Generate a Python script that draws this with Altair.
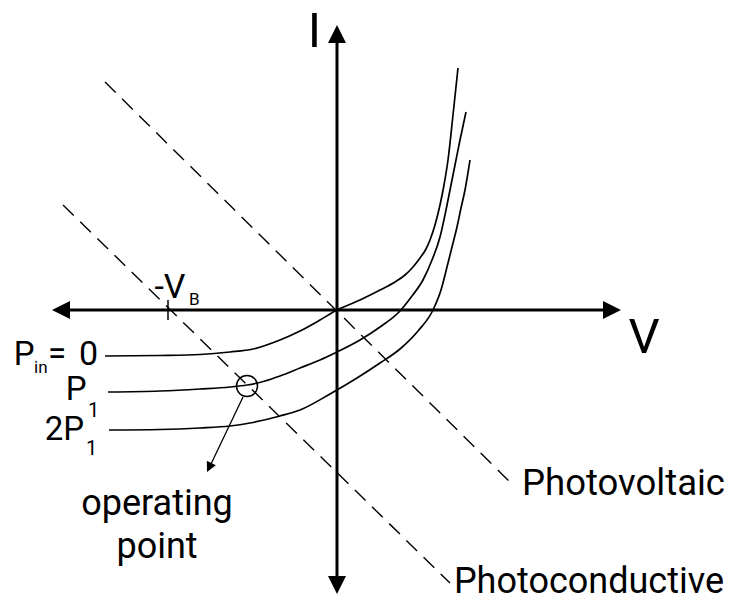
import altair as alt
import pandas as pd

# Diagram units: origin at the axis crossing, 1 unit = 1 px, I positive upward
# I-V curves
p0_v = [-232, -177, -137, -107, -84, -57, -37, -17, 0, 23, 43, 58, 68, 76, 83, 89, 93, 98, 103, 107, 111, 116, 121]
p0_i = [-46, -45.5, -44.5, -42, -39, -30, -21, -10, 0, 10, 20, 28, 35, 43, 52, 61, 70, 85, 105, 125, 150, 195, 242]

p1_v = [-229, -177, -137, -107, -90, -72, -57, -37, -17, 0, 23, 43, 63, 75, 86, 95, 103, 109, 113, 118, 123, 129]
p1_i = [-82, -81, -79, -77, -75, -71, -66, -58, -50, -42, -30, -17, -1, 14, 30, 50, 73, 100, 120, 145, 170, 198]

p2_v = [-228, -177, -137, -107, -87, -57, -37, -7, 20, 43, 63, 81, 96, 104, 110, 115, 120, 124, 128, 133]
p2_i = [-120, -119.5, -118, -116, -113, -106, -100, -84, -68, -53, -39, -21, 0, 20, 43, 63, 83, 102, 120, 150]

# load lines (dashed)
pv_v = [-232, 173]
pv_i = [228, -172]
pc_v = [-274, 113]
pc_i = [105, -273]

# axis extents (arrow tips)
h_axis_v = [-285, 284]
v_axis_i = [-284, 285]
vb = -169            # -V_B tick position
op_v, op_i = -90, -76  # operating point

XD = [-329, 388]
YD = [-284, 302]
W, H = 717, 586


def X(f="v"):
    return alt.X(f"{f}:Q", scale=alt.Scale(domain=XD, nice=False, zero=False), axis=None)


def Y(f="i"):
    return alt.Y(f"{f}:Q", scale=alt.Scale(domain=YD, nice=False, zero=False), axis=None)


rows = []
for name, vs, is_ in [("Pin=0", p0_v, p0_i), ("P1", p1_v, p1_i), ("2P1", p2_v, p2_i)]:
    for k, (a, b) in enumerate(zip(vs, is_)):
        rows.append({"curve": name, "v": a, "i": b, "k": k})
curves_df = pd.DataFrame(rows)

curves = alt.Chart(curves_df).mark_line(
    color="black", strokeWidth=1.7, interpolate="monotone"
).encode(x=X(), y=Y(), detail="curve:N", order="k:Q")

load_df = pd.DataFrame(
    [{"line": "pv", "v": a, "i": b} for a, b in zip(pv_v, pv_i)]
    + [{"line": "pc", "v": a, "i": b} for a, b in zip(pc_v, pc_i)]
)
loads = alt.Chart(load_df).mark_line(
    color="black", strokeWidth=1.4, strokeDash=[15, 9]
).encode(x=X(), y=Y(), detail="line:N")

# axes
h_df = pd.DataFrame({"v": [h_axis_v[0] + 6], "v2": [h_axis_v[1] - 6], "i": [0]})
h_axis = alt.Chart(h_df).mark_rule(color="black", strokeWidth=3).encode(
    x=X(), x2="v2:Q", y=Y())
v_df = pd.DataFrame({"v": [0], "i": [v_axis_i[0] + 6], "i2": [v_axis_i[1] - 6]})
v_axis = alt.Chart(v_df).mark_rule(color="black", strokeWidth=3).encode(
    x=X(), y=Y(), y2="i2:Q")

arrow_path = "M0,0L-2,-1L-2,1Z"
heads_df = pd.DataFrame({
    "v": [h_axis_v[0], h_axis_v[1], 0, 0],
    "i": [0, 0, v_axis_i[1], v_axis_i[0]],
    "ang": [180, 0, 270, 90],
})
heads = alt.Chart(heads_df).mark_point(
    shape=arrow_path, filled=True, color="black", opacity=1, size=324, strokeWidth=0
).encode(x=X(), y=Y(), angle=alt.Angle("ang:Q", scale=None))

# -V_B tick
tick_df = pd.DataFrame({"v": [vb], "i": [10], "i2": [-10]})
tick = alt.Chart(tick_df).mark_rule(color="black", strokeWidth=1.5).encode(
    x=X(), y=Y(), y2="i2:Q")

# operating point circle and arrow
circ = alt.Chart(pd.DataFrame({"v": [op_v], "i": [op_i]})).mark_point(
    shape="circle", filled=False, color="black", size=441, strokeWidth=1.5, opacity=1
).encode(x=X(), y=Y())

ptr_df = pd.DataFrame({"v": [-94], "i": [-87], "v2": [-126], "i2": [-154]})
ptr = alt.Chart(ptr_df).mark_rule(color="black", strokeWidth=1.3).encode(
    x=X(), y=Y(), x2="v2:Q", y2="i2:Q")
ptr_head = alt.Chart(pd.DataFrame({"v": [-130], "i": [-162], "ang": [115.6]})).mark_point(
    shape=arrow_path, filled=True, color="black", opacity=1, size=100, strokeWidth=0
).encode(x=X(), y=Y(), angle=alt.Angle("ang:Q", scale=None))

# text labels
labels_left = pd.DataFrame({
    "label": ["B", "in", "=", "1", "1", "Photovoltaic"],
    "v": [-148, -303, -289, -249, -251, 185],
    "i": [5, -63, -55, -107, -145, -185],
    "fs": [17, 17, 33, 20, 20, 36.5],
})
labels_center = pd.DataFrame({
    "label": ["I", "V", "operating", "point"],
    "v": [-22.5, 307, -180, -180],
    "i": [263, -43, -205, -248],
    "fs": [49, 49, 36, 36],
})
labels_right = pd.DataFrame({
    "label": ["-V", "P", "0", "P", "2P", "Photoconductive"],
    "v": [-151.5, -302.5, -239, -250.5, -253, 387],
    "i": [12, -55, -55, -90, -130, -283],
    "fs": [34, 33, 34, 33, 33, 36],
})


def text_layer(df, align):
    return alt.Chart(df).mark_text(
        font="Roboto", align=align, baseline="alphabetic", color="black"
    ).encode(x=X(), y=Y(), text="label:N", size=alt.Size("fs:Q", scale=None))


chart = alt.layer(
    loads, curves, h_axis, v_axis, heads, tick, circ, ptr, ptr_head,
    text_layer(labels_left, "left"),
    text_layer(labels_center, "center"),
    text_layer(labels_right, "right"),
).properties(
    width=W, height=H, padding=0,
    autosize=alt.AutoSizeParams(type="none"),
    background="white",
).configure_view(stroke=None)

chart.save("out.html", embed_options={"renderer": "svg", "actions": False})
